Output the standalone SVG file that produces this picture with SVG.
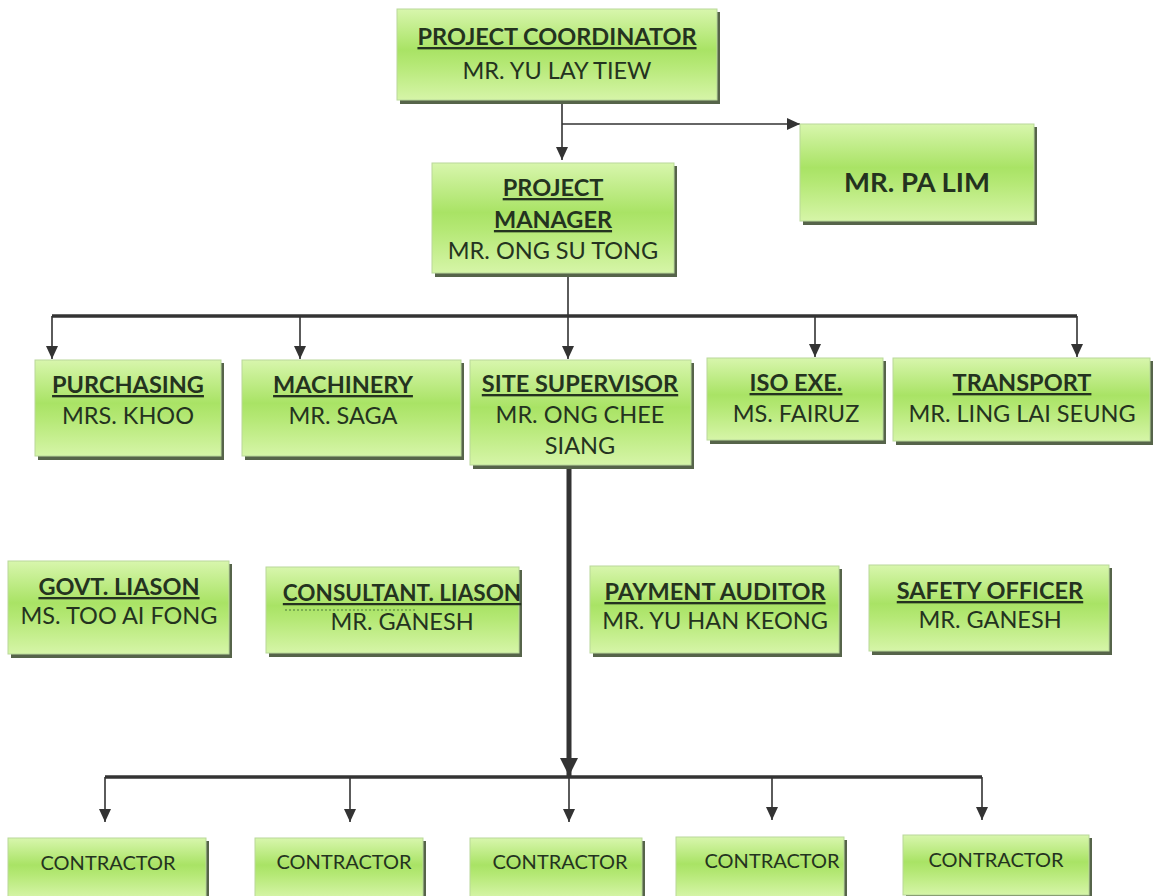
<svg xmlns="http://www.w3.org/2000/svg" width="1153" height="896" viewBox="0 0 1153 896">
<defs>
<linearGradient id="g" x1="0" y1="0" x2="0" y2="1">
<stop offset="0" stop-color="#d8f6ad"/>
<stop offset="0.45" stop-color="#a9e365"/>
<stop offset="0.6" stop-color="#b4e874"/>
<stop offset="1" stop-color="#d6f5a8"/>
</linearGradient>
<marker id="ar" markerUnits="userSpaceOnUse" markerWidth="13" markerHeight="12" refX="13" refY="6" orient="auto" viewBox="0 0 13 12">
<path d="M0,0 L13,6 L0,12 Z" fill="#333"/>
</marker>
<marker id="arB" markerUnits="userSpaceOnUse" markerWidth="18" markerHeight="18" refX="18" refY="9" orient="auto" viewBox="0 0 18 18">
<path d="M0,0 L18,9 L0,18 Z" fill="#333"/>
</marker>
</defs>
<style>
.box{fill:url(#g);stroke:#b9d89a;stroke-width:1}
.sh{fill:#56644a}
.t{font-family:Lato,"Liberation Sans",sans-serif;font-size:23.5px;fill:#24331f;text-anchor:middle}
.b{font-weight:bold;text-decoration:underline}
.c{font-size:20px}
.big{font-size:27.5px;font-weight:bold}
.ln{stroke:#333;stroke-width:1.6;fill:none}
.bus{stroke:#333;stroke-width:3.5;fill:none}
</style>
<rect width="1153" height="896" fill="#fff"/>

<g id="connectors">
<path class="ln" d="M562,102 V160" marker-end="url(#ar)"/>
<path class="ln" d="M562,124 H800" marker-end="url(#ar)"/>
<path class="ln" d="M568,275 V316"/>
<path class="bus" d="M52,316 H1077"/>
<path class="ln" d="M52,316 V359" marker-end="url(#ar)"/>
<path class="ln" d="M300,316 V359" marker-end="url(#ar)"/>
<path class="ln" d="M568,316 V359" marker-end="url(#ar)"/>
<path class="ln" d="M815,316 V357" marker-end="url(#ar)"/>
<path class="ln" d="M1077,316 V357" marker-end="url(#ar)"/>
<path d="M569,467 V776" stroke="#333" stroke-width="5" fill="none" marker-end="url(#arB)"/>
<path class="bus" d="M105,777 H982"/>
<path class="ln" d="M105,777 V822" marker-end="url(#ar)"/>
<path class="ln" d="M350,777 V822" marker-end="url(#ar)"/>
<path class="ln" d="M569,777 V822" marker-end="url(#ar)"/>
<path class="ln" d="M772,777 V820" marker-end="url(#ar)"/>
<path class="ln" d="M982,777 V820" marker-end="url(#ar)"/>
</g>

<g id="n-coordinator">
<rect class="sh" x="400" y="12" width="320" height="92"/>
<rect class="box" x="397" y="9" width="320" height="91"/>
<text class="t b" x="557" y="45">PROJECT COORDINATOR</text>
<text class="t" x="557" y="79">MR. YU LAY TIEW</text>
</g>

<g id="n-palim">
<rect class="sh" x="803" y="127" width="234" height="98"/>
<rect class="box" x="800" y="124" width="234" height="97"/>
<text class="t big" x="917" y="192">MR. PA LIM</text>
</g>

<g id="n-manager">
<rect class="sh" x="435" y="166" width="242" height="111"/>
<rect class="box" x="432" y="163" width="242" height="110"/>
<text class="t b" x="553" y="196">PROJECT</text>
<text class="t b" x="553" y="228">MANAGER</text>
<text class="t" x="553" y="259">MR. ONG SU TONG</text>
</g>

<g id="n-purchasing">
<rect class="sh" x="38" y="363" width="186" height="97"/>
<rect class="box" x="35" y="360" width="186" height="96"/>
<text class="t b" x="128" y="393">PURCHASING</text>
<text class="t" x="128" y="424">MRS. KHOO</text>
</g>

<g id="n-machinery">
<rect class="sh" x="245" y="363" width="219" height="97"/>
<rect class="box" x="242" y="360" width="219" height="96"/>
<text class="t b" x="343" y="393">MACHINERY</text>
<text class="t" x="343" y="424">MR. SAGA</text>
</g>

<g id="n-site">
<rect class="sh" x="473" y="363" width="221" height="106"/>
<rect class="box" x="470" y="360" width="221" height="105"/>
<text class="t b" x="580" y="392">SITE SUPERVISOR</text>
<text class="t" x="580" y="423">MR. ONG CHEE</text>
<text class="t" x="580" y="454">SIANG</text>
</g>

<g id="n-iso">
<rect class="sh" x="710" y="361" width="176" height="83"/>
<rect class="box" x="707" y="358" width="176" height="82"/>
<text class="t b" x="796" y="391">ISO EXE.</text>
<text class="t" x="796" y="422">MS. FAIRUZ</text>
</g>

<g id="n-transport">
<rect class="sh" x="896" y="361" width="257" height="84"/>
<rect class="box" x="893" y="358" width="257" height="83"/>
<text class="t b" x="1022" y="391">TRANSPORT</text>
<text class="t" x="1022" y="422">MR. LING LAI SEUNG</text>
</g>

<g id="n-govt">
<rect class="sh" x="11" y="564" width="221" height="94"/>
<rect class="box" x="8" y="561" width="221" height="93"/>
<text class="t b" x="119" y="595">GOVT. LIASON</text>
<text class="t" x="119" y="624">MS. TOO AI FONG</text>
</g>

<g id="n-consultant">
<rect class="sh" x="269" y="570" width="253" height="87"/>
<rect class="box" x="266" y="567" width="253" height="86"/>
<text class="t b" x="402" y="601" style="font-size:22.5px">CONSULTANT. LIASON</text>
<path d="M285,610 H415" stroke="#4a7a3a" stroke-width="1.2" stroke-dasharray="2,2"/>
<text class="t" x="402" y="630">MR. GANESH</text>
</g>

<g id="n-payment">
<rect class="sh" x="593" y="569" width="249" height="88"/>
<rect class="box" x="590" y="566" width="249" height="87"/>
<text class="t b" x="715" y="600">PAYMENT AUDITOR</text>
<text class="t" x="715" y="629">MR. YU HAN KEONG</text>
</g>

<g id="n-safety">
<rect class="sh" x="872" y="568" width="240" height="87"/>
<rect class="box" x="869" y="565" width="240" height="86"/>
<text class="t b" x="990" y="599">SAFETY OFFICER</text>
<text class="t" x="990" y="628">MR. GANESH</text>
</g>

<g id="n-c1">
<rect class="sh" x="11" y="841" width="198" height="60"/>
<rect class="box" x="8" y="838" width="198" height="60"/>
<text class="t c" x="108" y="870">CONTRACTOR</text>
</g>
<g id="n-c2">
<rect class="sh" x="258" y="841" width="168" height="60"/>
<rect class="box" x="255" y="838" width="168" height="60"/>
<text class="t c" x="344" y="869">CONTRACTOR</text>
</g>
<g id="n-c3">
<rect class="sh" x="473" y="841" width="172" height="60"/>
<rect class="box" x="470" y="838" width="172" height="60"/>
<text class="t c" x="560" y="869">CONTRACTOR</text>
</g>
<g id="n-c4">
<rect class="sh" x="679" y="840" width="168" height="60"/>
<rect class="box" x="676" y="837" width="168" height="60"/>
<text class="t c" x="772" y="868">CONTRACTOR</text>
</g>
<g id="n-c5">
<rect class="sh" x="906" y="838" width="186" height="60"/>
<rect class="box" x="903" y="835" width="186" height="60"/>
<text class="t c" x="996" y="867">CONTRACTOR</text>
</g>
</svg>
